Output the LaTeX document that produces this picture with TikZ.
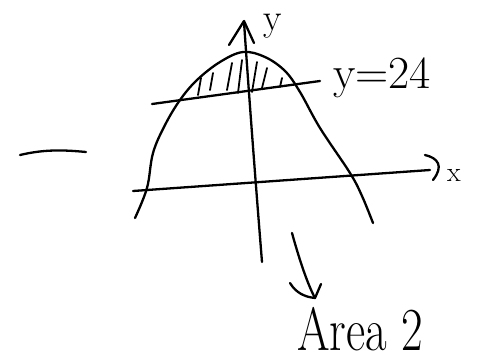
\documentclass[tikz,border=0pt]{standalone}
\begin{document}
\begin{tikzpicture}[x=1pt,y=-1pt,
  pen/.style={line width=2.3pt,line cap=round,line join=round,black},
  thin pen/.style={line width=1.8pt,line cap=round,black},
  hand/.style={inner sep=0pt,outer sep=0pt,black}]
\useasboundingbox (0,0) rectangle (479,362);
\fill[white] (0,0) rectangle (479,362);
% dash on left
\draw[pen] (20,155) .. controls (45,149) and (65,150) .. (86,152);
% parabola
\draw[pen] plot[smooth,tension=0.6] coordinates {(135,218) (147,188) (153,153) (165,125) (180,100) (197,80) (220,62) (243,52) (265,57) (285,71) (300,92) (320,128) (350,173) (362,196) (373,223)};
% line y=24
\draw[pen] (152,104) -- (320,81);
% x axis
\draw[pen] (133,191) -- (430,170);
\draw[pen] (425,155) .. controls (438,158) and (444,166) .. (433,180);
% y axis
\draw[pen] (262,262) .. controls (257,200) and (250,110) .. (244,22);
\draw[pen] (229,45) -- (244,21) -- (254,43);
% hatching
\foreach \a/\b/\c/\d in {201/78/198/95, 213/73/210/90, 232/63/227/90, 242/60/238/93, 257/62/252/92, 267/68/262/88, 282/78/280/87}
  \draw[thin pen] (\a,\b) -- (\c,\d);
% labels
\node[hand,anchor=base,font=\fontsize{38}{38}\selectfont] (ylab) at (273,30) {y};
\node[hand,anchor=base,font=\fontsize{28}{28}\selectfont] (xlab) at (454,181) {x};
\node[hand,anchor=base west,font=\fontsize{46}{46}\selectfont] (ylinelab) at (333,88) {y=24};
\node[hand,anchor=base west,font=\fontsize{47}{47}\selectfont] (area) at (297,350) {\scalebox{1}[1.3]{Area 2}};
% down arrow
\coordinate (arrowtop) at (292,233);
\coordinate (arrowtip) at (315,298);
\draw[pen] (arrowtop) .. controls (300,262) and (308,285) .. (arrowtip);
\draw[pen] (290,283) .. controls (296,293) and (305,297) .. (arrowtip) -- (321,284);
\end{tikzpicture}
\end{document}
